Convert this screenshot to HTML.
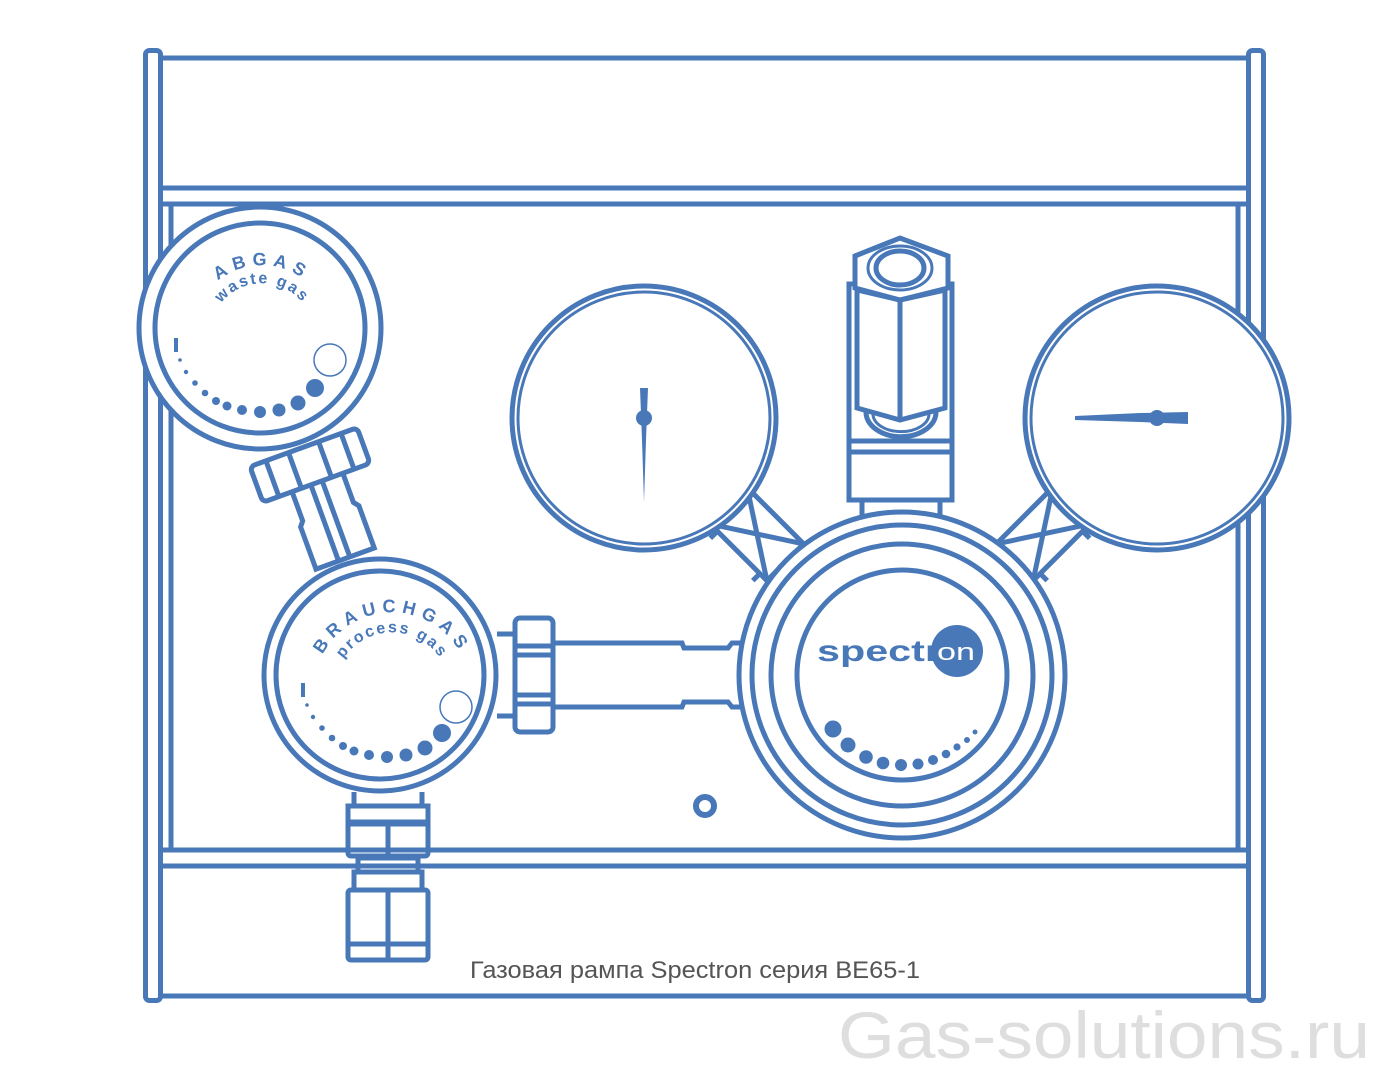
<!DOCTYPE html>
<html><head><meta charset="utf-8"><style>
html,body{margin:0;padding:0;background:#fff;}
svg{display:block;}
</style></head><body>
<svg width="1382" height="1072" viewBox="0 0 1382 1072" xmlns="http://www.w3.org/2000/svg">
<defs>
<path id="abgArc" d="M 196 312 A 70 70 0 0 1 328 312"/>
<path id="wstArc" d="M 212 321 A 52 52 0 0 1 312 321"/>
<path id="brArc" d="M 322 656 A 78 78 0 0 1 462 656"/>
<path id="prArc" d="M 337 672 A 58 58 0 0 1 447 672"/>
</defs>
<g fill="none" stroke="#4878b8" stroke-width="5">
<rect x="145.5" y="50.5" width="15" height="950" rx="4"/>
<rect x="1248.5" y="50.5" width="15" height="950" rx="4"/>
<line x1="160" y1="58" x2="1249" y2="58"/>
<line x1="160" y1="188" x2="1249" y2="188"/>
<line x1="160" y1="204" x2="1249" y2="204"/>
<line x1="171" y1="204" x2="171" y2="850"/>
<line x1="1238" y1="204" x2="1238" y2="850"/>
<line x1="160" y1="850" x2="1249" y2="850"/>
<line x1="160" y1="866" x2="1249" y2="866"/>
<line x1="160" y1="996" x2="1249" y2="996"/>

<g transform="translate(310,465) rotate(-20)">
<path d="M -26 19 L -26 50 L -30 55 L -30 100 L 32 100 L 32 55 L 28 50 L 28 19" fill="#fff"/>
<line x1="-6" y1="19" x2="-6" y2="100"/>
<line x1="6" y1="19" x2="6" y2="100"/>
<rect x="-57" y="-19" width="114" height="38" rx="5" fill="#fff"/>
<line x1="-40" y1="-19" x2="-40" y2="19"/>
<line x1="-16" y1="-19" x2="-16" y2="19"/>
<line x1="16" y1="-19" x2="16" y2="19"/>
<line x1="40" y1="-19" x2="40" y2="19"/>
</g>

<circle cx="260" cy="328" r="121" fill="#fff"/>
<circle cx="260" cy="328" r="105"/>

<line x1="354" y1="792" x2="354" y2="808"/>
<line x1="422" y1="792" x2="422" y2="808"/>
<rect x="348" y="806" width="80" height="18" />
<rect x="348" y="822" width="80" height="34" rx="3"/>
<line x1="388" y1="822" x2="388" y2="856"/>
<rect x="358" y="858" width="60" height="14"/>
<rect x="354" y="872" width="68" height="18"/>
<rect x="348" y="890" width="80" height="70" rx="3"/>
<line x1="388" y1="890" x2="388" y2="960"/>
<line x1="348" y1="944" x2="428" y2="944"/>

<circle cx="380" cy="675" r="116" fill="#fff"/>
<circle cx="380" cy="675" r="104"/>

<line x1="497" y1="634" x2="515" y2="634"/>
<line x1="497" y1="716" x2="515" y2="716"/>
<path d="M 553 643 L 682 643 L 684 648 L 728 648 L 732 643 L 745 643"/>
<path d="M 553 707 L 682 707 L 684 702 L 728 702 L 732 707 L 745 707"/>
<rect x="515" y="618" width="38" height="114" rx="5" fill="#fff"/>
<line x1="515" y1="646" x2="553" y2="646"/>
<line x1="515" y1="704" x2="553" y2="704"/>
<line x1="515" y1="655" x2="553" y2="655"/>
<line x1="515" y1="695" x2="553" y2="695"/>

<line x1="862" y1="498" x2="862" y2="516"/>
<line x1="940" y1="498" x2="940" y2="516"/>
<rect x="849" y="284" width="103" height="216"/>
<polygon points="855,256 900,238 948,256 948,288 900,300 855,288" fill="#fff"/>
<ellipse cx="900" cy="268" rx="32" ry="22" stroke-width="3"/>
<ellipse cx="900" cy="268" rx="24" ry="17"/>
<path d="M 857 290 L 900 300 L 945 290 L 945 408 L 900 420 L 857 408 Z"/>
<line x1="900" y1="300" x2="900" y2="420"/>
<path d="M 866 412 A 34 24 0 0 0 936 412"/>
<path d="M 873 414 A 27 17 0 0 0 929 414" stroke-width="3"/>
<line x1="849" y1="441" x2="952" y2="441"/>
<line x1="849" y1="452" x2="952" y2="452"/>

<g transform="translate(757,534) rotate(45)">
<rect x="-40" y="-26" width="80" height="52" fill="#fff"/>
<line x1="-40" y1="-26" x2="40" y2="26"/>
<line x1="40" y1="-26" x2="-40" y2="26"/>
<line x1="-30" y1="26" x2="-30" y2="36"/>
<line x1="30" y1="26" x2="30" y2="36"/>
</g>
<g transform="translate(1043,534) rotate(-45)">
<rect x="-40" y="-26" width="80" height="52" fill="#fff"/>
<line x1="-40" y1="-26" x2="40" y2="26"/>
<line x1="40" y1="-26" x2="-40" y2="26"/>
<line x1="-30" y1="26" x2="-30" y2="36"/>
<line x1="30" y1="26" x2="30" y2="36"/>
</g>

<circle cx="644" cy="418" r="132" fill="#fff"/>
<circle cx="644" cy="418" r="126" stroke-width="3"/>
<circle cx="1157" cy="418" r="132" fill="#fff"/>
<circle cx="1157" cy="418" r="126" stroke-width="3"/>

<circle cx="902" cy="675" r="163" fill="#fff"/>
<circle cx="902" cy="675" r="150"/>
<circle cx="902" cy="675" r="131"/>
<circle cx="902" cy="675" r="105"/>

<circle cx="705" cy="806" r="9" stroke-width="6"/>
</g>

<g fill="#4878b8">
<polygon points="640,388 648,388 646,440 644,502 642,440"/>
<circle cx="644" cy="418" r="8"/>
<polygon points="1075,416 1140,413 1188,412 1188,424 1140,422 1075,420"/>
<circle cx="1157" cy="418" r="8"/>
</g>

<g fill="#4878b8">
<text font-family="Liberation Sans, sans-serif" font-weight="bold" font-size="18" letter-spacing="6"><textPath href="#abgArc" startOffset="50%" text-anchor="middle">ABGAS</textPath></text>
<text font-family="Liberation Sans, sans-serif" font-weight="bold" font-size="16" letter-spacing="2"><textPath href="#wstArc" startOffset="50%" text-anchor="middle">waste gas</textPath></text>
<g id="dots">
<rect x="174" y="338" width="4" height="14"/>
<circle cx="180" cy="360" r="1.8"/>
<circle cx="186" cy="372" r="2.2"/>
<circle cx="195" cy="383" r="2.8"/>
<circle cx="205" cy="393" r="3.3"/>
<circle cx="216" cy="401" r="4"/>
<circle cx="227" cy="406" r="4.5"/>
<circle cx="242" cy="410" r="5"/>
<circle cx="260" cy="412" r="6"/>
<circle cx="279" cy="410" r="6.5"/>
<circle cx="298" cy="403" r="7.5"/>
<circle cx="315" cy="388" r="9"/>
</g>
<use href="#dots" transform="translate(127,345)"/>
<text font-family="Liberation Sans, sans-serif" font-weight="bold" font-size="18" letter-spacing="6"><textPath href="#brArc" startOffset="50%" text-anchor="middle">BRAUCHGAS</textPath></text>
<text font-family="Liberation Sans, sans-serif" font-weight="bold" font-size="16" letter-spacing="2"><textPath href="#prArc" startOffset="50%" text-anchor="middle">process gas</textPath></text>
</g>
<circle cx="330" cy="360" r="16" fill="none" stroke="#4878b8" stroke-width="1.5"/>
<circle cx="456" cy="707" r="16" fill="none" stroke="#4878b8" stroke-width="1.5"/>

<g fill="#4878b8">
<text x="817" y="661" font-family="Liberation Sans, sans-serif" font-weight="bold" font-size="30" textLength="124" lengthAdjust="spacingAndGlyphs">spectr</text>
<circle cx="957" cy="651" r="26"/>
<circle cx="833" cy="729" r="8.5"/>
<circle cx="848" cy="745" r="7.5"/>
<circle cx="866" cy="757" r="6.8"/>
<circle cx="883" cy="763" r="6.3"/>
<circle cx="901" cy="765" r="6"/>
<circle cx="918" cy="764" r="5.5"/>
<circle cx="933" cy="760" r="5"/>
<circle cx="946" cy="754" r="4.3"/>
<circle cx="957" cy="747" r="3.6"/>
<circle cx="967" cy="740" r="3"/>
<circle cx="975" cy="732" r="2.5"/>
</g>
<text x="937" y="660" fill="#fff" font-family="Liberation Sans, sans-serif" font-size="24" textLength="38" lengthAdjust="spacingAndGlyphs">on</text>

<text x="470" y="978" fill="#555" font-family="Liberation Sans Narrow, Liberation Sans, sans-serif" font-size="24" textLength="450" lengthAdjust="spacingAndGlyphs">Газовая рампа Spectron серия BE65-1</text>
<text x="838" y="1058" fill="#dedede" font-family="Liberation Sans, sans-serif" font-size="66" textLength="532" lengthAdjust="spacingAndGlyphs">Gas-solutions.ru</text>
</svg>
</body></html>
